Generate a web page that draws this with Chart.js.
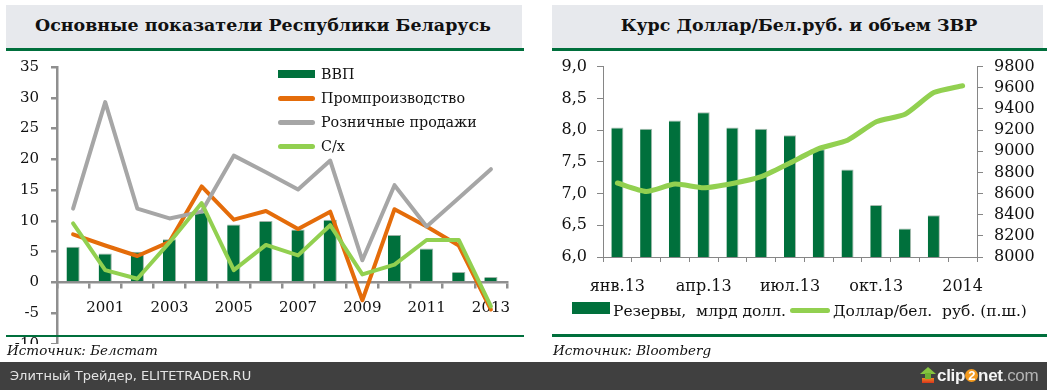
<!DOCTYPE html>
<html><head><meta charset="utf-8">
<script src="https://cdn.jsdelivr.net/npm/chart.js@4.4.1/dist/chart.umd.min.js"></script>
<style>
body{margin:0;width:1047px;height:390px;background:#fff;position:relative;overflow:hidden;font-family:'DejaVu Serif',serif;color:#111;}
.a{position:absolute;white-space:nowrap;}
.tbox{position:absolute;background:#e7e9ed;top:5px;height:43px;}
.ttl{position:absolute;font-weight:bold;font-size:18px;line-height:22px;top:14px;white-space:nowrap;}
.gl{position:absolute;height:2.5px;background:#006f3c;}
.lt{position:absolute;font-size:15px;line-height:18px;white-space:nowrap;}
.src{position:absolute;font-style:italic;font-size:13.5px;line-height:16px;top:342px;white-space:nowrap;}
</style>
</head><body>
<script>
// ---------- data ----------
const years = ['2000','2001','2002','2003','2004','2005','2006','2007','2008','2009','2010','2011','2012','2013'];
const gdp      = [5.8, 4.7, 5.0, 7.0, 11.4, 9.4, 10.0, 8.6, 10.2, 0.2, 7.7, 5.5, 1.7, 0.9];
const industry = [7.8, 6.0, 4.3, 6.6, 15.6, 10.2, 11.6, 8.7, 11.5, -2.9, 11.9, 9.1, 6.0, -4.4];
const retail   = [12.0, 29.3, 12.0, 10.4, 11.5, 20.6, 17.9, 15.1, 19.8, 3.6, 15.8, 9.1, 13.7, 18.4];
const agri     = [9.6, 2.0, 0.6, 6.5, 12.9, 2.0, 6.1, 4.4, 9.3, 1.3, 2.9, 6.9, 6.9, -3.9];
const leftNames = ['ВВП','Промпроизводство','Розничные продажи','С/х'];

const months = ['янв.13','фев.13','мар.13','апр.13','май.13','июн.13','июл.13','авг.13','сен.13','окт.13','ноя.13','дек.13','2014'];
const reserves = [8.04, 8.02, 8.15, 8.28, 8.04, 8.02, 7.92, 7.70, 7.38, 6.82, 6.45, 6.66, null];
const rate     = [8700, 8620, 8690, 8655, 8695, 8760, 8890, 9025, 9105, 9280, 9350, 9555, 9620];
const rightNames = ['Резервы,\u00a0 млрд долл.','Доллар/бел.\u00a0 руб. (п.ш.)'];
const titles = ['Основные показатели Республики Беларусь','Курс Доллар/Бел.руб. и объем ЗВР'];
const sources = ['Источник: Белстат','Источник: Bloomberg'];
</script>

<div class="tbox" style="left:6px;width:516px"></div>
<div class="gl" style="left:6px;width:518px;top:48px"></div>
<div class="tbox" style="left:552px;width:491px"></div>
<div class="gl" style="left:552px;width:495px;top:48px"></div>
<div id="t1" class="ttl"></div>
<div id="t2" class="ttl"></div>

<div class="a" style="left:0;top:55px;width:530px;height:289px;overflow:hidden">
  <canvas id="cL" width="530" height="298"></canvas>
</div>
<div class="a" style="left:540px;top:55px;width:507px;height:250px;">
  <canvas id="cR" width="507" height="250"></canvas>
</div>

<div id="legL"></div>
<div id="legR"></div>

<div class="gl" style="left:6px;width:518px;top:334.5px;height:2.5px"></div>
<div class="gl" style="left:552px;width:495px;top:334px;height:2.5px"></div>
<div id="s1" class="src" style="left:7px"></div>
<div id="s2" class="src" style="left:553px"></div>

<div class="a" style="left:0;top:362px;width:1047px;height:28px;background:#404040"></div>
<div class="a" style="left:10px;top:362px;line-height:28px;font-family:'DejaVu Sans',sans-serif;font-size:13px;color:#e4e4e4">Элитный Трейдер, ELITETRADER.RU</div>
<!-- clip2net logo -->
<div class="a" style="left:922px;top:378px;width:12px;height:5px;background:linear-gradient(#f08a24,#d9341c);"></div>
<div class="a" style="left:920px;top:367px;width:0;height:0;border-left:8px solid transparent;border-right:8px solid transparent;border-bottom:7px solid #86c440;"></div>
<div class="a" style="left:925px;top:373px;width:6px;height:6px;background:#6fb032;"></div>
<div class="a" style="left:937px;top:363px;line-height:26px;font-family:'Liberation Sans',Arial,sans-serif;font-weight:bold;font-size:17px;color:#f4f4f4;letter-spacing:-0.3px">clip<span style="display:inline-block;width:13px;height:13px;border-radius:50%;background:#f39a1e;color:#fff;text-align:center;line-height:14px;font-size:13px;vertical-align:1px">2</span>net<span style="color:#b4b4b4;font-weight:normal">.com</span></div>

<script>
function fitW(el, w){ // adjust font size so text width equals w
  const fs = parseFloat(getComputedStyle(el).fontSize);
  const cw = el.getBoundingClientRect().width;
  const nf = fs * w / cw;
  el.style.fontSize = nf.toFixed(2) + 'px';
  return nf;
}
const t1 = document.getElementById('t1'), t2 = document.getElementById('t2');
t1.textContent = titles[0]; t2.textContent = titles[1];
fitW(t1, 456); fitW(t2, 357);
t1.style.left = (263 - t1.getBoundingClientRect().width/2) + 'px';
t2.style.left = (799 - t2.getBoundingClientRect().width/2) + 'px';
document.getElementById('s1').textContent = sources[0];
document.getElementById('s2').textContent = sources[1];

// left legend
const legColors = ['#00703c','#e46c0a','#a6a6a6','#92d050'];
const legL = document.getElementById('legL');
const rows = [74, 98, 122, 146];
const texts = [];
leftNames.forEach((n,i)=>{
  const sw = document.createElement('div');
  sw.className='a';
  if(i===0){ sw.style.cssText='left:278px;top:'+(rows[i]-4)+'px;width:37px;height:8px;background:'+legColors[i]; }
  else { sw.style.cssText='left:278px;top:'+(rows[i]-2.5)+'px;width:37px;height:5px;border-radius:3px;background:'+legColors[i]; }
  legL.appendChild(sw);
  const tx = document.createElement('div');
  tx.className='lt'; tx.textContent=n;
  tx.style.left='321px'; tx.style.top=(rows[i]-9)+'px';
  legL.appendChild(tx); texts.push(tx);
});
const lf = fitW(texts[1], 144);
texts.forEach(t=>{ t.style.fontSize = lf.toFixed(2)+'px'; });
// right legend
const legR = document.getElementById('legR');
legR.innerHTML = '<div class="a" style="left:572px;top:302px;width:38px;height:12px;background:#00703c"></div>'+
 '<div class="a" style="left:790px;top:308px;width:40px;height:5px;border-radius:3px;background:#92d050"></div>';
const r1 = document.createElement('div'); r1.className='lt'; r1.textContent=rightNames[0];
r1.style.left='613px'; r1.style.top='302px'; legR.appendChild(r1); fitW(r1,173);
const r2 = document.createElement('div'); r2.className='lt'; r2.textContent=rightNames[1];
r2.style.left='833px'; r2.style.top='302px'; legR.appendChild(r2); fitW(r2,194);

// fix scale sizes so the plot area matches the reference exactly
function fixV(w){ return s=>{ s.width=w; s.paddingTop=0; s.paddingBottom=0; }; }
function fixH(h){ return s=>{ s.height=h; s.paddingLeft=0; s.paddingRight=0; }; }

const axisGray = '#8f8f8f';
const fontL = {family:'DejaVu Serif', size:15};
new Chart(document.getElementById('cL'), {
  data: { labels: years, datasets: [
    {type:'bar', label:leftNames[0], data:gdp, backgroundColor:'#00703c', borderColor:'#9fb3a7',
     borderWidth:{top:1,right:1,left:0,bottom:0}, borderSkipped:'bottom', barPercentage:0.41, categoryPercentage:1, order:3},
    {type:'line', label:leftNames[1], data:industry, borderColor:'#e46c0a', borderWidth:4, pointRadius:0, tension:0,
     borderJoinStyle:'round', borderCapStyle:'round', order:2},
    {type:'line', label:leftNames[2], data:retail, borderColor:'#a6a6a6', borderWidth:4, pointRadius:0, tension:0,
     borderJoinStyle:'round', borderCapStyle:'round', order:1},
    {type:'line', label:leftNames[3], data:agri, borderColor:'#92d050', borderWidth:4, pointRadius:0, tension:0,
     borderJoinStyle:'round', borderCapStyle:'round', order:0}
  ]},
  options: {
    responsive:false, animation:false,
    layout:{padding:{left:0,right:23,top:12,bottom:9}},
    plugins:{legend:{display:false}, tooltip:{enabled:false}},
    scales:{
      x:{type:'category', position:{y:0}, offset:true,
         grid:{offset:true, drawOnChartArea:false, drawTicks:true, tickLength:5, color:axisGray, lineWidth:2.5},
         border:{color:axisGray, width:2.5},
         ticks:{autoSkip:false, maxRotation:0, minRotation:0, padding:12, font:fontL, color:'#111',
                callback:(v,i)=> (i%2===1 ? years[i] : '')},
         afterFit:fixH(0)},
      y:{min:-10, max:35,
         ticks:{stepSize:5, autoSkip:false, padding:12, font:fontL, color:'#111'},
         grid:{drawOnChartArea:false, tickLength:6, color:axisGray, lineWidth:2.5},
         border:{color:axisGray, width:2.5},
         afterFit:fixV(57)}
    }
  }
});

const fontR = {family:'DejaVu Serif', size:16};
const thinGray = '#868686';
new Chart(document.getElementById('cR'), {
  data: { labels: months, datasets: [
    {type:'bar', label:rightNames[0], data:reserves, yAxisID:'y', backgroundColor:'#00703c', borderColor:'#a9bbb0',
     borderWidth:{top:1,right:1,left:0,bottom:0}, borderSkipped:'bottom', barPercentage:0.42, categoryPercentage:1, order:1},
    {type:'line', label:rightNames[1], data:rate, yAxisID:'y1', borderColor:'#92d050', borderWidth:5, pointRadius:0,
     tension:0.2, borderJoinStyle:'round', borderCapStyle:'round', order:0}
  ]},
  options: {
    responsive:false, animation:false,
    layout:{padding:{left:0,right:0,top:11.7,bottom:0}},
    plugins:{legend:{display:false}, tooltip:{enabled:false}},
    scales:{
      x:{type:'category', offset:true,
         grid:{offset:true, drawOnChartArea:false, tickLength:5, color:thinGray, lineWidth:1},
         border:{color:thinGray, width:1},
         ticks:{autoSkip:false, maxRotation:0, minRotation:0, padding:15, font:fontR, color:'#111',
                callback:(v,i)=> (i%3===0 ? months[i] : '')},
         afterFit:fixH(48)},
      y:{position:'left', min:6, max:9,
         ticks:{stepSize:0.5, autoSkip:false, padding:10, font:fontR, color:'#111', callback:v=>v.toFixed(1).replace('.',',')},
         grid:{drawOnChartArea:false, tickLength:6, color:thinGray, lineWidth:1},
         border:{color:thinGray, width:1},
         afterFit:fixV(63)},
      y1:{position:'right', min:8000, max:9800,
         ticks:{stepSize:200, autoSkip:false, padding:11, font:fontR, color:'#111', callback:v=>String(v)},
         grid:{drawOnChartArea:false, tickLength:6, color:thinGray, lineWidth:1},
         border:{color:thinGray, width:1},
         afterFit:fixV(70)}
    }
  }
});
</script>
</body></html>
